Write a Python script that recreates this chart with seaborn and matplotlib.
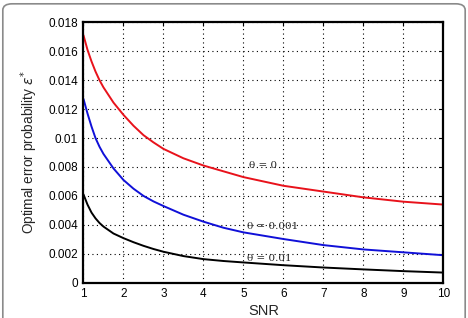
import pandas as pd
import seaborn as sns
import matplotlib.pyplot as plt
from matplotlib.patches import FancyBboxPatch

# values
snr = [1, 1.1, 1.2, 1.3, 1.4, 1.5, 1.75, 2, 2.25, 2.5, 2.75, 3, 3.5, 4, 4.5,
       5, 6, 7, 8, 9, 10]
eps_theta0 = [0.0171, 0.0161, 0.0153, 0.0146, 0.0140, 0.0135, 0.01245, 0.0116,
              0.01085, 0.0102, 0.0097, 0.00925, 0.0086, 0.0081, 0.0077,
              0.0073, 0.0067, 0.0063, 0.0059, 0.0056, 0.0054]
eps_theta001 = [0.0127, 0.0117, 0.0108, 0.0100, 0.0094, 0.0089, 0.0079, 0.0071,
                0.0065, 0.0060, 0.00562, 0.0053, 0.0047, 0.00422, 0.0038,
                0.00348, 0.00302, 0.0026, 0.0023, 0.0021, 0.0019]
eps_theta01 = [0.0061, 0.0054, 0.00485, 0.00445, 0.00413, 0.00388, 0.0034, 0.00308,
               0.0028, 0.00255, 0.00233, 0.00214, 0.00184, 0.00163, 0.0015,
               0.0014, 0.00121, 0.00105, 0.00092, 0.0008, 0.0007]
series_names = ['θ = 0', 'θ = 0.001', 'θ = 0.01']
series_colors = ['#e8121b', '#1010d8', '#000000']
label_pos = [(5.13, 0.0081), (5.08, 0.0039), (5.1, 0.0017)]

df = pd.DataFrame({
    'SNR': snr * 3,
    'eps': eps_theta0 + eps_theta001 + eps_theta01,
    'theta': [n for n in series_names for _ in snr],
})

sns.set_style('white')
plt.rcParams['font.family'] = ['Liberation Sans', 'DejaVu Sans']

fig = plt.figure(figsize=(4.68, 3.18), dpi=100)
ax = fig.add_axes([0.1784, 0.111, 0.7688, 0.8189])

# rounded grey frame around the figure
frame = FancyBboxPatch((0.006, -0.1), 0.988, 1.088, transform=fig.transFigure,
                       boxstyle='round,pad=0,rounding_size=0.02',
                       facecolor='none', edgecolor='#8a8a8a', lw=1.2)
fig.patches.append(frame)

sns.lineplot(data=df, x='SNR', y='eps', hue='theta', palette=series_colors,
             hue_order=series_names, lw=1.4, legend=False, ax=ax)

for name, (x, y) in zip(series_names, label_pos):
    ax.text(x, y, name, fontsize=7.5, family=['DejaVu Serif'], va='center', ha='left')

ax.set_xlim(1, 10)
ax.set_ylim(0, 0.018)
ax.set_xticks(range(1, 11))
ax.set_yticks([0, 0.002, 0.004, 0.006, 0.008, 0.01, 0.012, 0.014, 0.016, 0.018])
ax.set_yticklabels(['0', '0.002', '0.004', '0.006', '0.008', '0.01', '0.012',
                    '0.014', '0.016', '0.018'])
ax.grid(True, color='black', linestyle=(0, (1, 3)), lw=0.8)
ax.tick_params(direction='in', top=True, right=True, length=3, width=0.8,
               labelsize=8.5, pad=4, colors='black')
for s in ax.spines.values():
    s.set_color('black')
    s.set_linewidth(1.6)

ax.set_xlabel('SNR', fontsize=10.5, labelpad=3)
ax.set_ylabel('Optimal error probability $\\varepsilon^{*}$', fontsize=9.8, labelpad=6)

fig.savefig('out.png', dpi=100)
